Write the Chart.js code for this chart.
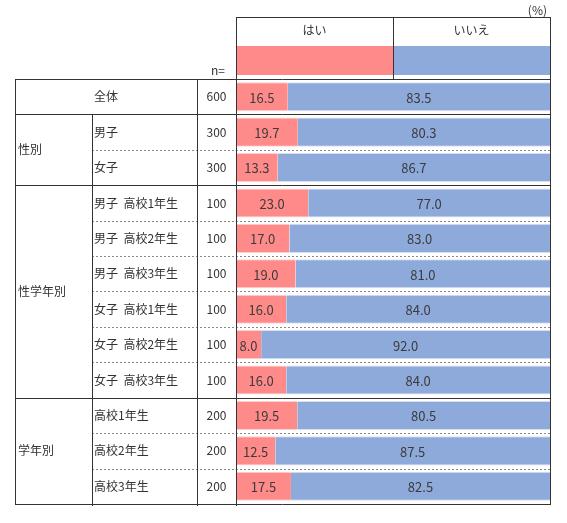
<!DOCTYPE html>
<html>
<head>
<meta charset="utf-8">
<script src="https://cdn.jsdelivr.net/npm/chart.js@4/dist/chart.umd.min.js"></script>
<style>
  html, body { margin: 0; padding: 0; background: #fff; }
  #wrap { width: 567px; height: 523px; position: relative; }
</style>
</head>
<body>
<div id="wrap"><canvas id="chart"></canvas></div>
<script>
// Row labels, group labels and values
const categories = ['全体', '男子', '女子',
  '男子  高校1年生', '男子  高校2年生', '男子  高校3年生',
  '女子  高校1年生', '女子  高校2年生', '女子  高校3年生',
  '高校1年生', '高校2年生', '高校3年生'];
const groupNames = ['', '性別', '性学年別', '学年別'];
const groupSizes = [1, 2, 6, 3];
const sampleSizes = [600, 300, 300, 100, 100, 100, 100, 100, 100, 200, 200, 200];
const seriesLabels = ['はい', 'いいえ'];
const yesValues = [16.5, 19.7, 13.3, 23.0, 17.0, 19.0, 16.0, 8.0, 16.0, 19.5, 12.5, 17.5];
const noValues = [83.5, 80.3, 86.7, 77.0, 83.0, 81.0, 84.0, 92.0, 84.0, 80.5, 87.5, 82.5];

(function () {
    'use strict';

    var FONT = '"Noto Sans CJK JP", "Noto Sans", sans-serif';
    var LINE = '#333333';
    var TEXT = '#333333';
    var RED = '#FF8A8A';
    var BLUE = '#8EAADB';

    // table column edges (left side of the chart)
    var COL_LEFT = 15, COL_SUB = 92, COL_N = 197;
    var HEADER_TOP = 17;

    function hline(ctx, x1, x2, y, dashed) {
        ctx.save();
        ctx.strokeStyle = dashed ? '#8a8a8a' : LINE;
        ctx.lineWidth = 1;
        if (dashed) ctx.setLineDash([2, 2]);
        ctx.beginPath();
        ctx.moveTo(x1, Math.round(y) + 0.5);
        ctx.lineTo(x2, Math.round(y) + 0.5);
        ctx.stroke();
        ctx.restore();
    }

    function vline(ctx, x, y1, y2) {
        ctx.save();
        ctx.strokeStyle = LINE;
        ctx.lineWidth = 1;
        ctx.beginPath();
        ctx.moveTo(Math.round(x) + 0.5, y1);
        ctx.lineTo(Math.round(x) + 0.5, y2);
        ctx.stroke();
        ctx.restore();
    }

    function text(ctx, str, x, y, align, size, color) {
        ctx.save();
        ctx.font = (size || 12) + 'px ' + FONT;
        ctx.fillStyle = color || TEXT;
        ctx.textAlign = align || 'left';
        ctx.textBaseline = 'middle';
        ctx.fillText(str, x, y);
        ctx.restore();
    }

    var tablePlugin = {
        id: 'tablePlugin',
        afterDatasetsDraw: function (chart) {
            var ctx = chart.ctx;
            var area = chart.chartArea;
            var xs = chart.scales.x;
            var ys = chart.scales.y;
            var half = (ys.getPixelForValue(1) - ys.getPixelForValue(0)) / 2;
            var rowTop = function (i) { return ys.getPixelForValue(i) - half; };
            var rowBot = function (i) { return ys.getPixelForValue(i) + half; };
            var x0 = xs.getPixelForValue(0), x50 = xs.getPixelForValue(50), x100 = xs.getPixelForValue(100);

            // header with series names and colour keys
            text(ctx, '(%)', x100 - 3, 10, 'right', 12);
            hline(ctx, x0, x100, HEADER_TOP, false);
            text(ctx, seriesLabels[0], (x0 + x50) / 2, 30, 'center', 12);
            text(ctx, seriesLabels[1], (x50 + x100) / 2, 30, 'center', 12);
            ctx.fillStyle = RED;
            ctx.fillRect(x0, 46, x50 - x0, 29);
            ctx.fillStyle = BLUE;
            ctx.fillRect(x50, 46, x100 - x50, 29);
            vline(ctx, x50, HEADER_TOP, area.top);
            text(ctx, 'n=', area.left - 11, 70, 'right', 12);

            // horizontal rules: solid between groups, dashed inside a group
            hline(ctx, COL_LEFT, x100, rowTop(0), false);
            var idx = 0;
            groupSizes.forEach(function (size, g) {
                for (var k = 0; k < size; k++) {
                    var i = idx + k;
                    if (k === size - 1) {
                        hline(ctx, COL_LEFT, x100, rowBot(i), false);
                    } else {
                        hline(ctx, COL_SUB, x100, rowBot(i), true);
                    }
                }
                if (groupNames[g]) {
                    text(ctx, groupNames[g], COL_LEFT + 3, (rowTop(idx) + rowBot(idx + size - 1)) / 2, 'left', 12);
                }
                idx += size;
            });

            // vertical rules
            var last = categories.length - 1;
            vline(ctx, COL_LEFT, rowTop(0), rowBot(last) + 1);
            vline(ctx, COL_SUB, rowBot(0), rowBot(last) + 2);
            vline(ctx, COL_N, rowTop(0), rowBot(last) + 2);
            vline(ctx, x0, HEADER_TOP, rowBot(last) + 2);
            vline(ctx, x100, HEADER_TOP, rowBot(last) + 1);

            // row labels and n
            categories.forEach(function (label, i) {
                var y = ys.getPixelForValue(i);
                if (i === 0) {
                    text(ctx, label, (COL_LEFT + COL_N) / 2, y, 'center', 12);
                } else {
                    text(ctx, label, COL_SUB + 2, y, 'left', 12);
                }
                text(ctx, String(sampleSizes[i]), (COL_N + x0) / 2, y, 'center', 12);
            });

            // value labels centred in each segment
            chart.data.datasets.forEach(function (ds, d) {
                var meta = chart.getDatasetMeta(d);
                meta.data.forEach(function (bar, i) {
                    var cx = (bar.base + bar.x) / 2;
                    text(ctx, ds.data[i].toFixed(1), cx, bar.y + 1, 'center', 13, '#3c3c3c');
                });
            });
        }
    };

    new Chart(document.getElementById('chart').getContext('2d'), {
        type: 'bar',
        data: {
            labels: categories,
            datasets: [{
                label: seriesLabels[0],
                data: yesValues,
                backgroundColor: RED,
                borderColor: '#ffd0d0',
                borderWidth: { top: 1, bottom: 1, left: 0, right: 0 },
                borderSkipped: false,
                barPercentage: 0.82,
                categoryPercentage: 1
            }, {
                label: seriesLabels[1],
                data: noValues,
                backgroundColor: BLUE,
                borderColor: '#d6e0f2',
                borderWidth: { top: 1, bottom: 1, left: 0, right: 0 },
                borderSkipped: false,
                barPercentage: 0.82,
                categoryPercentage: 1
            }]
        },
        options: {
            indexAxis: 'y',
            responsive: true,
            maintainAspectRatio: false,
            animation: false,
            layout: { padding: { left: 236, right: 17, top: 79, bottom: 19 } },
            plugins: {
                legend: { display: false },
                tooltip: { enabled: false }
            },
            scales: {
                x: { stacked: true, min: 0, max: 100, display: false },
                y: { stacked: true, display: false }
            }
        },
        plugins: [tablePlugin]
    });
})();
</script>
</body>
</html>
